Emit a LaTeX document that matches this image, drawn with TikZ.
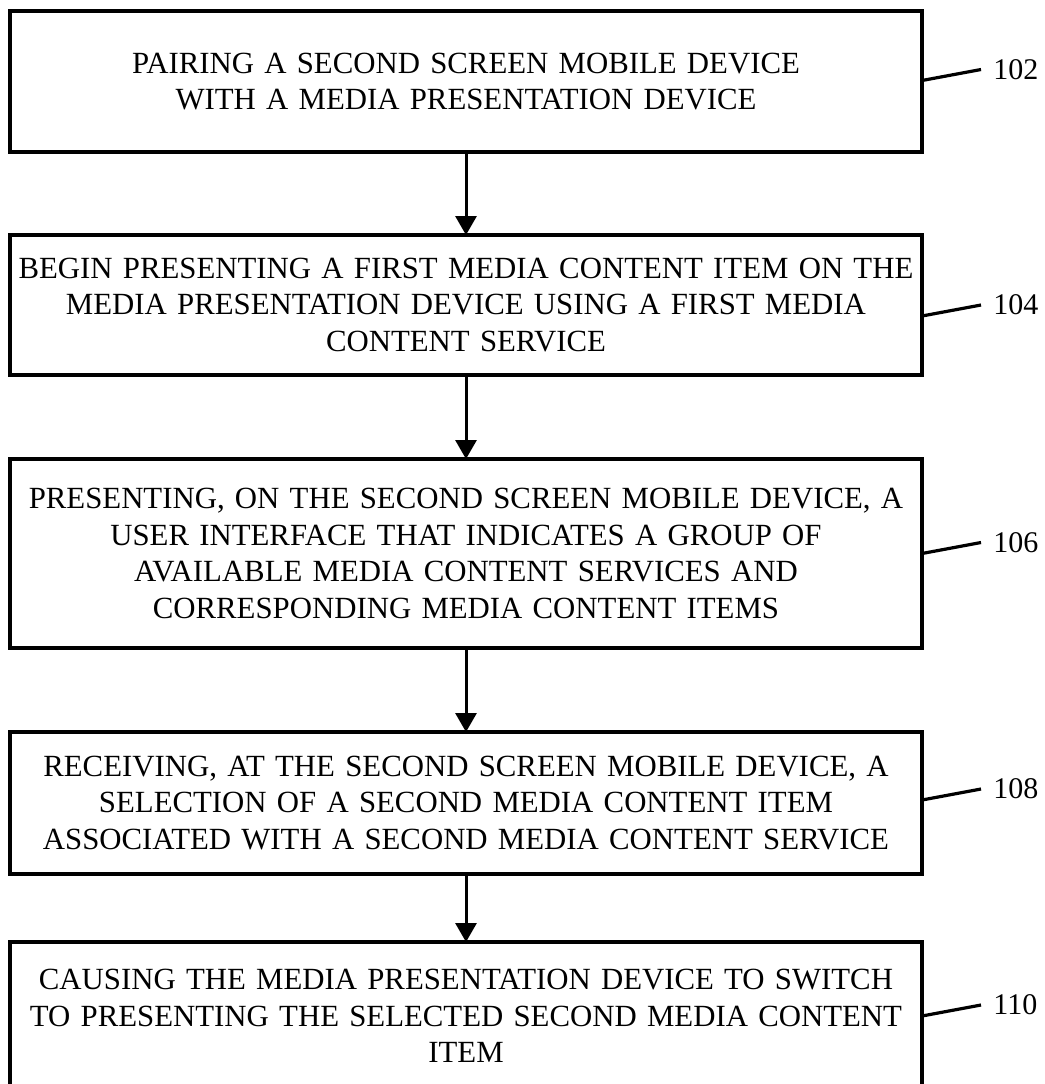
\documentclass[tikz,border=0pt]{standalone}
\usepackage{fontspec}
\setmainfont{Liberation Serif}
\usetikzlibrary{positioning,arrows.meta}
\tikzset{%
stepbox/.style={draw,rectangle,line width=2pt,outer sep=0pt,minimum width=456pt,text width=454pt,align=center,inner sep=1pt,font=\fontsize{15.4}{18.3}\selectfont},
flowarrow/.style={-{Triangle[length=9.5pt,width=10.5pt]},line width=1.5pt},
leader/.style={line width=1.6pt},
reflabel/.style={anchor=west,inner sep=6pt,font=\fontsize{15}{18}\selectfont}
}
\begin{document}
\begin{tikzpicture}[x=0.5pt,y=-0.5pt]
  \useasboundingbox (0,0) rectangle (1045,1084);

  \node[stepbox,minimum height=70.5pt] (b102) at (466,81.5)
    {PAIRING A SECOND SCREEN MOBILE DEVICE\\WITH A MEDIA PRESENTATION DEVICE};
  \node[stepbox,minimum height=70pt]   (b104) [below=41.5pt of b102]
    {BEGIN PRESENTING A FIRST MEDIA CONTENT ITEM ON THE\\MEDIA PRESENTATION DEVICE USING A FIRST MEDIA\\CONTENT SERVICE};
  \node[stepbox,minimum height=94.5pt] (b106) [below=42pt of b104]
    {PRESENTING, ON THE SECOND SCREEN MOBILE DEVICE, A\\USER INTERFACE THAT INDICATES A GROUP OF\\AVAILABLE MEDIA CONTENT SERVICES AND\\CORRESPONDING MEDIA CONTENT ITEMS};
  \node[stepbox,minimum height=71pt]   (b108) [below=42pt of b106]
    {RECEIVING, AT THE SECOND SCREEN MOBILE DEVICE, A\\SELECTION OF A SECOND MEDIA CONTENT ITEM\\ASSOCIATED WITH A SECOND MEDIA CONTENT SERVICE};
  \node[stepbox,minimum height=74pt]   (b110) [below=34pt of b108]
    {CAUSING THE MEDIA PRESENTATION DEVICE TO SWITCH\\TO PRESENTING THE SELECTED SECOND MEDIA CONTENT\\ITEM};

  % flow
  \foreach \a/\b in {b102/b104,b104/b106,b106/b108,b108/b110}
    \draw[flowarrow] (\a) -- (\b);

  % reference numerals
  \foreach \n/\s in {102/0.5pt,104/-5.5pt,106/0pt,108/1.5pt,110/0pt}
  {
    \coordinate (s\n) at ([yshift=\s]b\n.east);
    \node[reflabel] (l\n) at ([shift={(59,-11)}]s\n) {\n};
    \draw[leader] (s\n) -- (l\n.west);
  }

\end{tikzpicture}
\end{document}
